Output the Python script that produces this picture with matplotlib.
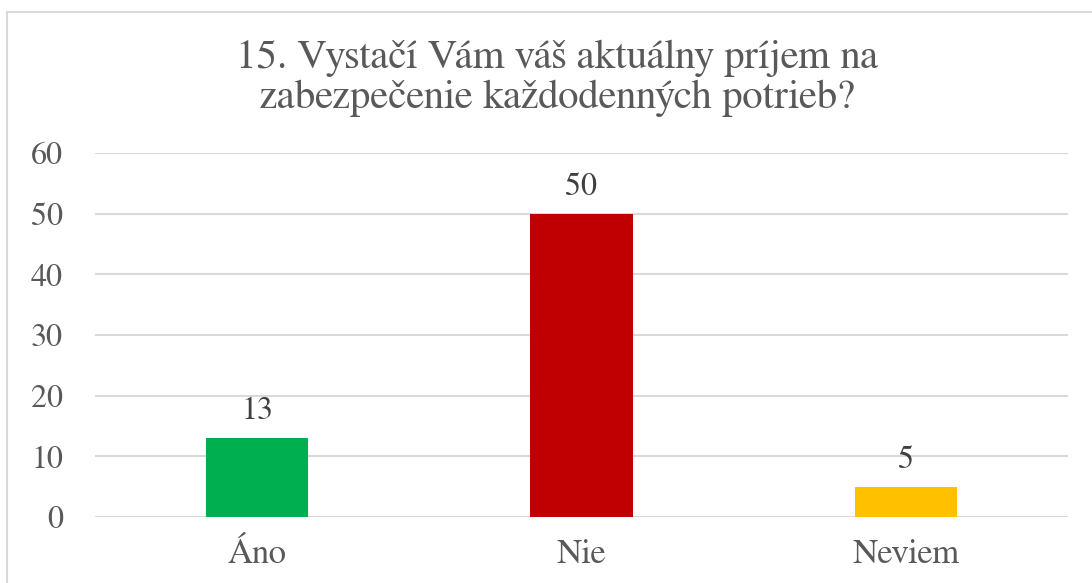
import matplotlib
matplotlib.use("Agg")
import matplotlib.pyplot as plt
from matplotlib.patches import Rectangle

categories = ["Áno", "Nie", "Neviem"]
values = [13, 50, 5]
colors = ["#00B050", "#C00000", "#FFC000"]
yticks = [0, 10, 20, 30, 40, 50, 60]
title = "15. Vystačí Vám váš aktuálny príjem na\nzabezpečenie každodenných potrieb?"

FAMILY = ['FreeSerif', 'STIX Two Text', 'DejaVu Serif']
plt.rcParams['font.family'] = FAMILY

W, H = 1092, 583
fig = plt.figure(figsize=(W/100, H/100), dpi=100)
fig.patch.set_facecolor("white")

fig.patches.append(Rectangle((7/W, -0.1), 1.2, (H-12)/H + 0.1, transform=fig.transFigure,
                             fill=False, edgecolor="#d9d9d9", linewidth=1.5))

ax = fig.add_axes([95/W, 1-517/H, (1068-95)/W, (517-153)/H])
x = list(range(len(categories)))
ax.bar(x, values, width=0.315, color=colors, zorder=3)
ax.set_xlim(-0.5, len(categories)-0.5)
ax.set_ylim(0, 60)
ax.set_yticks(yticks)
ax.set_xticks(x)
ax.set_xticklabels(categories)
ax.tick_params(axis='both', length=0, colors="#595959")
ax.tick_params(axis='y', pad=23, labelsize=23)
ax.tick_params(axis='x', pad=16, labelsize=25)
ax.grid(axis='y', color="#d9d9d9", linewidth=1.5, zorder=0)
for s in ax.spines.values():
    s.set_visible(False)
for xi, v in zip(x, values):
    ax.text(xi, v + 2.0, str(v), ha='center', va='bottom', fontsize=23, color="#404040")

fig.text(557/W, 1-78/H, title, ha='center', va='center', fontsize=29.5, color="#595959",
         linespacing=1.1)

fig.savefig("out.png", dpi=100)
